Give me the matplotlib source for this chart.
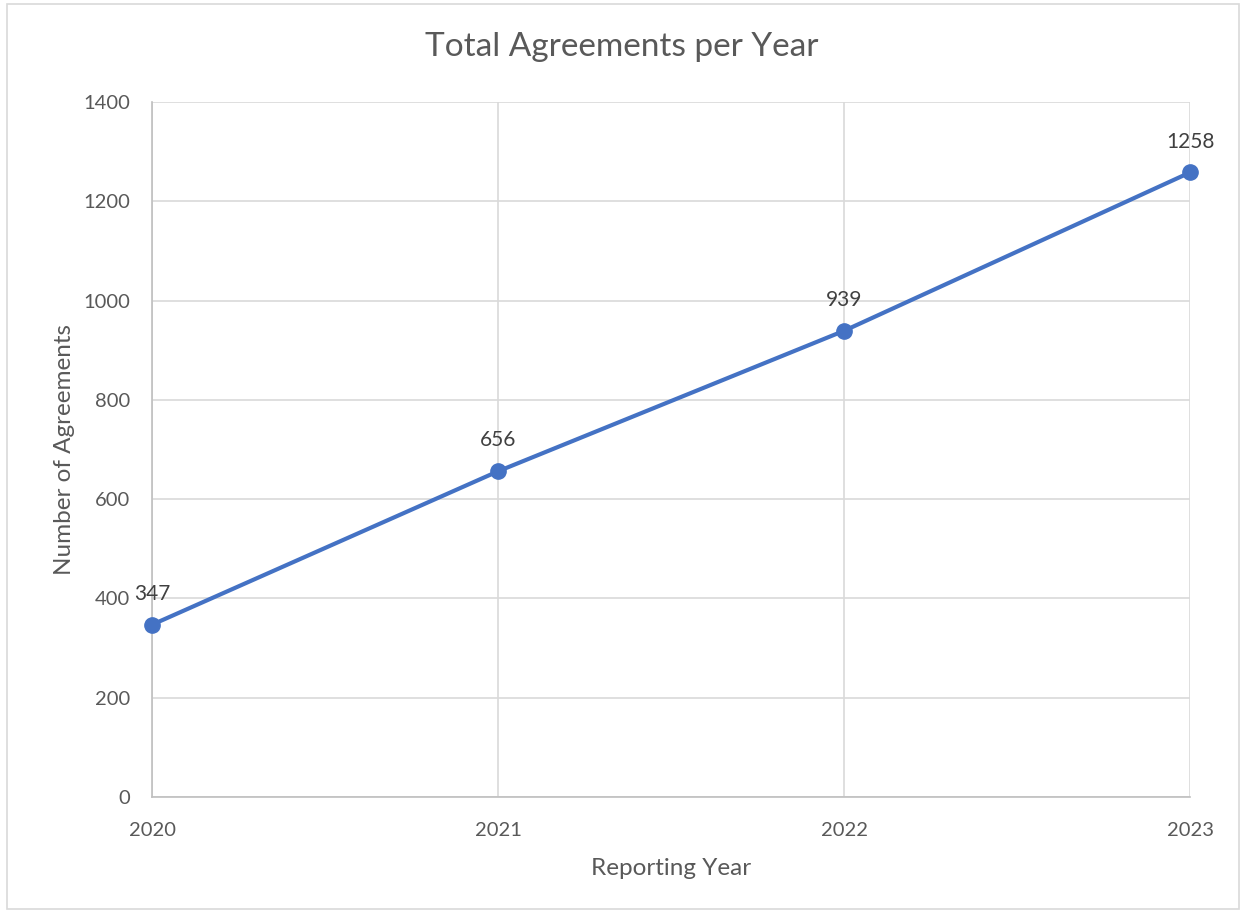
import matplotlib.pyplot as plt
from matplotlib.patches import Rectangle

# agreements counted per reporting year
years = ["2020", "2021", "2022", "2023"]
agreements = [347, 656, 939, 1258]
y_ticks = [0, 200, 400, 600, 800, 1000, 1200, 1400]

plt.rcParams["font.family"] = ["Lato", "DejaVu Sans"]
text_color = "#595959"
grid_color = "#D9D9D9"

fig = plt.figure(figsize=(12.44, 9.13), dpi=100)
ax = fig.add_axes([0.1222, 0.1271, 0.8344, 0.7612])

# light frame around the whole chart
fig.patches.append(Rectangle((0.006, 0.004), 0.99, 0.992, transform=fig.transFigure,
                             fill=False, edgecolor=grid_color, linewidth=1.2))

x = list(range(len(years)))
ax.plot(x, agreements, color="#4472C4", linewidth=3, marker="o",
        markersize=11, zorder=3, clip_on=False)

for xi, v in zip(x, agreements):
    ax.annotate(str(v), (xi, v), xytext=(0, 15), textcoords="offset points",
                ha="center", va="bottom", fontsize=15, color="#404040")

ax.set_xlim(0, len(years) - 1)
ax.set_ylim(0, 1400)
ax.set_xticks(x)
ax.set_xticklabels(years)
ax.set_yticks(y_ticks)

ax.grid(True, color=grid_color, linewidth=1.2)
ax.set_axisbelow(True)
for side in ["top", "right"]:
    ax.spines[side].set_visible(False)
for side in ["left", "bottom"]:
    ax.spines[side].set_color("#BFBFBF")
    ax.spines[side].set_linewidth(1.2)

ax.tick_params(axis="both", length=0, labelsize=14.5, colors=text_color)
ax.tick_params(axis="x", pad=18)
ax.tick_params(axis="y", pad=16)

fig.text(0.5, 0.948, "Total Agreements per Year", fontsize=24, color=text_color,
         ha="center", va="center")
ax.set_xlabel("Reporting Year", fontsize=17.5, color=text_color, labelpad=14)
ax.set_ylabel("Number of Agreements", fontsize=17.5, color=text_color, labelpad=6)

fig.savefig("out.png", dpi=100, facecolor="white")
